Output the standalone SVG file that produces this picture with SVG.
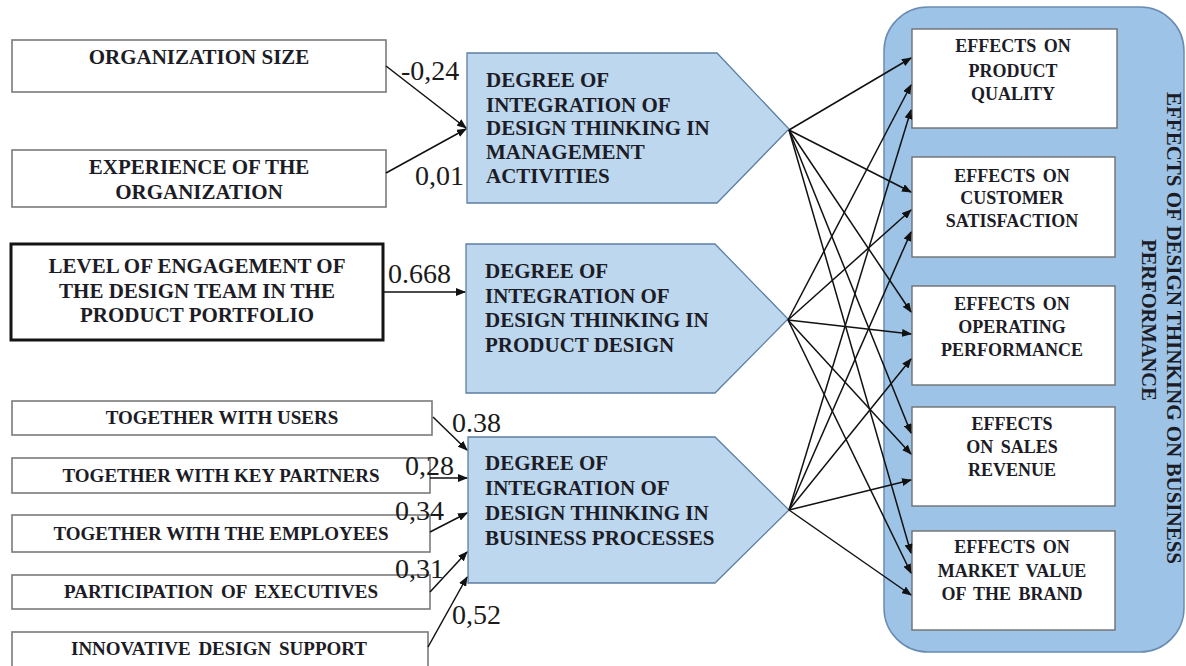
<svg xmlns="http://www.w3.org/2000/svg" width="1186" height="666" viewBox="0 0 1186 666">
<style>
.bx{fill:#fff;stroke:#7a7a7a;stroke-width:1.6}
.bxk{fill:#fff;stroke:#141414;stroke-width:3}
.pent{fill:#bdd7ee;stroke:#5d7fa3;stroke-width:1.3}
.panel{fill:#9dc3e6;stroke:#6a8cb3;stroke-width:1.5}
.rb{fill:#fff;stroke:#6f6f6f;stroke-width:1.4}
.t{font-family:"Liberation Serif","Times New Roman",serif;font-weight:bold;fill:#1c1c26}
.t21{font-size:21px}
.t19{font-size:19px}
.t18{font-size:18px;word-spacing:3px}
.c{text-anchor:middle}
.num{font-family:"Liberation Serif","Times New Roman",serif;font-size:28px;fill:#1a1a1a}
.cn{stroke:#111;stroke-width:1.5;fill:none;marker-end:url(#ah)}
</style>
<defs>
<marker id="ah" markerUnits="userSpaceOnUse" markerWidth="10" markerHeight="8" refX="9" refY="4" orient="auto">
<path d="M0,0 L10,4 L0,8 Z" fill="#111"/>
</marker>
</defs>
<rect width="1186" height="666" fill="#fff"/>

<g id="panel">
<rect class="panel" x="884" y="7" width="300" height="645" rx="44" ry="44"/>
<text class="t" font-size="21" text-anchor="middle" transform="translate(1167,328) rotate(90)">EFFECTS OF DESIGN THINKING ON BUSINESS</text>
<text class="t" font-size="20.5" text-anchor="middle" transform="translate(1142,320) rotate(90)">PERFORMANCE</text>
</g>

<g id="org-size">
<rect class="bx" x="12" y="40" width="374" height="52"/>
<text class="t t21 c" x="199" y="64">ORGANIZATION SIZE</text>
</g>
<g id="experience">
<rect class="bx" x="12" y="150" width="374" height="57"/>
<text class="t t21 c" x="199" y="174">EXPERIENCE OF THE</text>
<text class="t t21 c" x="199" y="199">ORGANIZATION</text>
</g>
<g id="engagement">
<rect class="bxk" x="11" y="244" width="372" height="96"/>
<text class="t t21 c" x="197" y="273">LEVEL OF ENGAGEMENT OF</text>
<text class="t t21 c" x="197" y="298">THE DESIGN TEAM IN THE</text>
<text class="t t21 c" x="197" y="322">PRODUCT PORTFOLIO</text>
</g>
<g id="users">
<rect class="bx" x="12" y="401" width="420" height="34"/>
<text class="t t19 c" x="222" y="424">TOGETHER WITH USERS</text>
</g>
<g id="partners">
<rect class="bx" x="12" y="458" width="418" height="35"/>
<text class="t t19 c" x="221" y="482">TOGETHER WITH KEY PARTNERS</text>
</g>
<g id="employees">
<rect class="bx" x="12" y="515" width="418" height="37"/>
<text class="t t19 c" x="221" y="540">TOGETHER WITH THE EMPLOYEES</text>
</g>
<g id="executives">
<rect class="bx" x="12" y="575" width="418" height="34"/>
<text class="t t19 c" x="221" y="598" word-spacing="3">PARTICIPATION OF EXECUTIVES</text>
</g>
<g id="innovative">
<rect class="bx" x="12" y="632" width="416" height="36"/>
<text class="t t19 c" x="219" y="655" word-spacing="3">INNOVATIVE DESIGN SUPPORT</text>
</g>

<g id="dt-management">
<path class="pent" d="M467,53 L717,53 L789,129 L717,203 L467,203 Z"/>
<text class="t t21" x="486" y="87">DEGREE OF</text>
<text class="t t21" x="486" y="112">INTEGRATION OF</text>
<text class="t t21" x="486" y="135">DESIGN THINKING IN</text>
<text class="t t21" x="486" y="159">MANAGEMENT</text>
<text class="t t21" x="486" y="183">ACTIVITIES</text>
</g>
<g id="dt-product">
<path class="pent" d="M466,244 L715,244 L788,319 L715,393 L466,393 Z"/>
<text class="t t21" x="485" y="278">DEGREE OF</text>
<text class="t t21" x="485" y="303">INTEGRATION OF</text>
<text class="t t21" x="485" y="327">DESIGN THINKING IN</text>
<text class="t t21" x="485" y="352">PRODUCT DESIGN</text>
</g>
<g id="dt-business">
<path class="pent" d="M468,437 L715,437 L789,510 L715,583 L468,583 Z"/>
<text class="t t21" x="485" y="470">DEGREE OF</text>
<text class="t t21" x="485" y="495">INTEGRATION OF</text>
<text class="t t21" x="485" y="520">DESIGN THINKING IN</text>
<text class="t t21" x="485" y="545">BUSINESS PROCESSES</text>
</g>

<g id="quality">
<rect class="rb" x="912" y="29" width="205" height="99"/>
<text class="t t18 c" x="1013" y="52">EFFECTS ON</text>
<text class="t t18 c" x="1013" y="77">PRODUCT</text>
<text class="t t18 c" x="1013" y="100">QUALITY</text>
</g>
<g id="satisfaction">
<rect class="rb" x="912" y="157" width="203" height="100"/>
<text class="t t18 c" x="1012" y="182">EFFECTS ON</text>
<text class="t t18 c" x="1012" y="204">CUSTOMER</text>
<text class="t t18 c" x="1012" y="227">SATISFACTION</text>
</g>
<g id="operating">
<rect class="rb" x="912" y="286" width="203" height="99"/>
<text class="t t18 c" x="1012" y="310">EFFECTS ON</text>
<text class="t t18 c" x="1012" y="333">OPERATING</text>
<text class="t t18 c" x="1012" y="356">PERFORMANCE</text>
</g>
<g id="sales">
<rect class="rb" x="912" y="407" width="203" height="99"/>
<text class="t t18 c" x="1012" y="430">EFFECTS</text>
<text class="t t18 c" x="1012" y="453">ON SALES</text>
<text class="t t18 c" x="1012" y="476">REVENUE</text>
</g>
<g id="market">
<rect class="rb" x="912" y="531" width="203" height="99"/>
<text class="t t18 c" x="1012" y="553">EFFECTS ON</text>
<text class="t t18 c" x="1012" y="577">MARKET VALUE</text>
<text class="t t18 c" x="1012" y="600">OF THE BRAND</text>
</g>

<g id="connectors">
<line class="cn" x1="386" y1="66" x2="466" y2="128"/>
<line class="cn" x1="386" y1="173" x2="466" y2="129"/>
<line class="cn" x1="383" y1="292" x2="465" y2="292"/>
<line class="cn" x1="433" y1="417" x2="467" y2="450"/>
<line class="cn" x1="430" y1="478" x2="467" y2="478"/>
<line class="cn" x1="430" y1="532" x2="467" y2="513"/>
<line class="cn" x1="430" y1="592" x2="467" y2="552"/>
<line class="cn" x1="428" y1="647" x2="467" y2="577"/>

<line class="cn" x1="789" y1="130" x2="911" y2="58"/>
<line class="cn" x1="789" y1="130" x2="911" y2="192"/>
<line class="cn" x1="789" y1="130" x2="911" y2="312"/>
<line class="cn" x1="789" y1="130" x2="911" y2="433"/>
<line class="cn" x1="789" y1="130" x2="911" y2="553"/>

<line class="cn" x1="788" y1="320" x2="911" y2="85"/>
<line class="cn" x1="788" y1="320" x2="911" y2="210"/>
<line class="cn" x1="788" y1="320" x2="911" y2="334"/>
<line class="cn" x1="788" y1="320" x2="911" y2="454"/>
<line class="cn" x1="788" y1="320" x2="911" y2="573"/>

<line class="cn" x1="789" y1="510" x2="911" y2="110"/>
<line class="cn" x1="789" y1="510" x2="911" y2="232"/>
<line class="cn" x1="789" y1="510" x2="911" y2="359"/>
<line class="cn" x1="789" y1="510" x2="911" y2="480"/>
<line class="cn" x1="789" y1="510" x2="911" y2="595"/>

<text class="num" x="401" y="80">-0,24</text>
<text class="num" x="415" y="185">0,01</text>
<text class="num" x="388" y="283">0.668</text>
<text class="num" x="452" y="432">0.38</text>
<text class="num" x="405" y="475">0,28</text>
<text class="num" x="395" y="520">0,34</text>
<text class="num" x="395" y="578">0,31</text>
<text class="num" x="452" y="624">0,52</text>
</g>
</svg>
